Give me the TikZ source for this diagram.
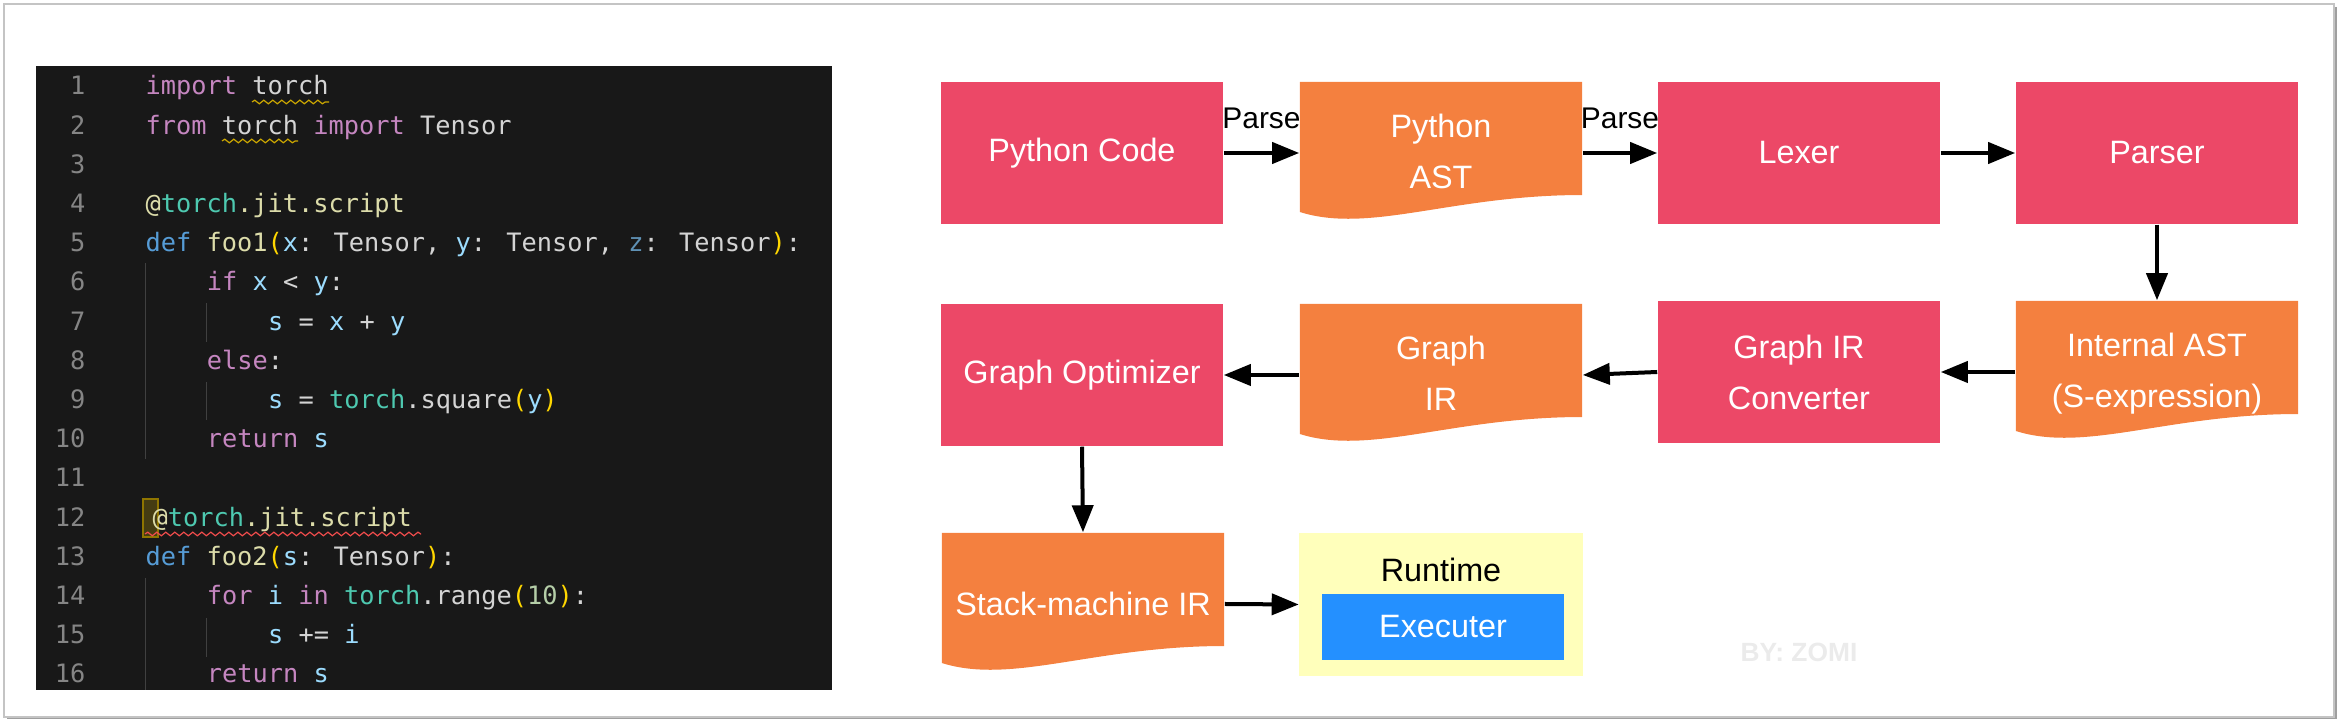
\documentclass[tikz,border=0pt]{standalone}
\usepackage{fontspec}
\setmainfont{Liberation Sans}
\newfontfamily\codefont{DejaVu Sans Mono}
\usepackage{tikz}
\usetikzlibrary{arrows.meta,decorations.pathmorphing}

\definecolor{boxred}{HTML}{EC4867}
\definecolor{boxorange}{HTML}{F4803F}
\definecolor{rtyellow}{HTML}{FFFFBB}
\definecolor{execblue}{HTML}{2490FF}
\definecolor{framegray}{HTML}{C4C4C4}
\definecolor{codebg}{HTML}{181818}
\definecolor{cdtext}{HTML}{D4D4D4}
\definecolor{cdlnum}{HTML}{858585}
\definecolor{cdkwc}{HTML}{C586C0}
\definecolor{cddefc}{HTML}{569CD6}
\definecolor{cdfnc}{HTML}{DCDCAA}
\definecolor{cdvarc}{HTML}{9CDCFE}
\definecolor{cddimc}{HTML}{5F91B4}
\definecolor{cdmodc}{HTML}{4EC9B0}
\definecolor{cdbrc}{HTML}{FFD700}
\definecolor{cdnumc}{HTML}{B5CEA8}
\definecolor{cdguide}{HTML}{404040}
\definecolor{cdwarn}{HTML}{CCA700}
\definecolor{cderr}{HTML}{F14C4C}

\newcommand\blockfont{\fontsize{9.2}{14.5}\selectfont}
\newcommand\docrows[1]{\raisebox{0.10cm}{\begin{tabular}{@{}c@{}}#1\end{tabular}}}
\newcommand\cdkw[1]{\textcolor{cdkwc}{#1}}
\newcommand\cddef[1]{\textcolor{cddefc}{#1}}
\newcommand\cdfn[1]{\textcolor{cdfnc}{#1}}
\newcommand\cdvar[1]{\textcolor{cdvarc}{#1}}
\newcommand\cddim[1]{\textcolor{cddimc}{#1}}
\newcommand\cdmod[1]{\textcolor{cdmodc}{#1}}
\newcommand\cdbr[1]{\textcolor{cdbrc}{#1}}
\newcommand\cdnum[1]{\textcolor{cdnumc}{#1}}

\begin{document}
\begin{tikzpicture}[x=0.01cm,y=-0.01cm,
  block/.style={fill=boxred,text=white,minimum width=2.82cm,minimum height=1.42cm,inner sep=0pt,align=center,font=\blockfont},
  docbox/.style={text=white,minimum width=2.82cm,minimum height=1.42cm,inner sep=0pt,align=center,font=\blockfont,
    path picture={\fill[boxorange] (path picture bounding box.north west) -- (path picture bounding box.north east)
      -- ([yshift=0.29cm]path picture bounding box.south east)
      .. controls ([xshift=-1.3cm,yshift=0.29cm]path picture bounding box.south east)
      and ([xshift=0.7cm,yshift=-0.1cm]path picture bounding box.south west)
      .. ([yshift=0.12cm]path picture bounding box.south west) -- cycle;}},
  flow/.style={-{Triangle[length=2.7mm,width=2.1mm]},line width=0.04cm},
  codeline/.style={anchor=base west,inner sep=0pt,text=cdtext,font=\codefont\fontsize{7.2}{8}\selectfont},
  lnum/.style={anchor=base east,inner sep=0pt,text=cdlnum,font=\codefont\fontsize{7.2}{8}\selectfont},
  guide/.style={draw=cdguide,line width=0.01cm},
  squiggle/.style={decorate,decoration={snake,amplitude=0.018cm,segment length=0.09cm},line width=0.012cm}
]
\useasboundingbox (0,0) rectangle (2338,722);
% frame and code panel
\draw[gray!75,line width=0.03cm] (7,718) -- (2335,718) -- (2335,7);
\draw[framegray,line width=0.015cm] (4,4) rectangle (2334,717);
\fill[codebg] (36,66) rectangle (832,690);

% line numbers
\foreach \n in {1,...,16}
  \node[lnum] (ln\n) at (86,{95+39.2*(\n-1)}) {\n};

% indent guides
\draw[guide] (145,263) -- (145,459);
\draw[guide] (206,303) -- (206,342);
\draw[guide] (206,382) -- (206,420);
\draw[guide] (145,578) -- (145,690);
\draw[guide] (206,618) -- (206,657);

% cursor box on line 12
\draw[draw=cdwarn!70!black,fill=cdwarn!25!codebg,line width=0.012cm] (143,499) rectangle (158,537);

% code
\node[codeline] (c1) at (145,95) {\cdkw{import} torch};
\node[codeline] (c2) at (145,134.2) {\cdkw{from} torch \cdkw{import} Tensor};
\node[codeline] (c4) at (145,212.6) {\cdfn{@}\cdmod{torch}\cdfn{.jit.script}};
\node[codeline] (c5) at (145,251.8) {\cddef{def} \cdfn{foo1}\cdbr{(}\cdvar{x}: Tensor, \cdvar{y}: Tensor, \cddim{z}: Tensor\cdbr{)}:};
\node[codeline] (c6) at (206.2,291) {\cdkw{if} \cdvar{x} < \cdvar{y}:};
\node[codeline] (c7) at (267.4,330.2) {\cdvar{s} = \cdvar{x} + \cdvar{y}};
\node[codeline] (c8) at (206.2,369.4) {\cdkw{else}:};
\node[codeline] (c9) at (267.4,408.6) {\cdvar{s} = \cdmod{torch}.square\cdbr{(}\cdvar{y}\cdbr{)}};
\node[codeline] (c10) at (206.2,447.8) {\cdkw{return} \cdvar{s}};
\node[codeline] (c12) at (152,526.2) {\cdfn{@}\cdmod{torch}\cdfn{.jit.script}};
\node[codeline] (c13) at (145,565.4) {\cddef{def} \cdfn{foo2}\cdbr{(}\cdvar{s}: Tensor\cdbr{)}:};
\node[codeline] (c14) at (206.2,604.6) {\cdkw{for} \cdvar{i} \cdkw{in} \cdmod{torch}.range\cdbr{(}\cdnum{10}\cdbr{)}:};
\node[codeline] (c15) at (267.4,643.8) {\cdvar{s} += \cdvar{i}};
\node[codeline] (c16) at (206.2,683) {\cdkw{return} \cdvar{s}};

% squiggly underlines
\draw[squiggle,cdwarn] (252,102) -- (329,102);
\draw[squiggle,cdwarn] (222,141) -- (298,141);
\draw[squiggle,cderr] (145,534) -- (421,534);

% compile pipeline
\node[block] (pycode) at (1082,153) {Python Code};
\node[docbox] (pyast) at (1441,153) {\docrows{Python\\AST}};
\node[block] (lexer) at (1799,153) {Lexer};
\node[block] (parser) at (2157,153) {Parser};
\node[docbox] (iast) at (2157,372) {\docrows{Internal AST\\(S-expression)}};
\node[block] (conv) at (1799,372) {Graph IR\\Converter};
\node[docbox] (graphir) at (1441,375) {\docrows{Graph\\IR}};
\node[block] (opt) at (1082,375) {Graph Optimizer};
\node[docbox] (stack) at (1083,604) {Stack-machine IR};
\node[fill=rtyellow,minimum width=2.83cm,minimum height=1.43cm,inner sep=0pt] (runtime) at (1441,604.5) {};
\node[font=\blockfont] (rtlabel) at (1441,570) {Runtime};
\node[fill=execblue,text=white,minimum width=2.41cm,minimum height=0.66cm,inner sep=0pt,font=\blockfont] (exec) at (1443,627) {Executer};
\node[text=black!8,font=\bfseries\fontsize{7.5}{9}\selectfont] (wm) at (1799,652) {BY: ZOMI};

\draw[flow] (pycode.east) -- node[above=1mm,font=\fontsize{8.5}{10}\selectfont]{Parse} (pyast.west);
\draw[flow] (pyast.east) -- node[above=1mm,font=\fontsize{8.5}{10}\selectfont]{Parse} (lexer.west);
\draw[flow] (lexer.east) -- (parser.west);
\draw[flow] (parser.south) -- (iast.north);
\draw[flow] (iast.west) -- (conv.east);
\draw[flow] (conv.west) -- (graphir.east);
\draw[flow] (graphir.west) -- (opt.east);
\draw[flow] (opt.south) -- (stack.north);
\draw[flow] (stack.east) -- (runtime.west);
\end{tikzpicture}
\end{document}
